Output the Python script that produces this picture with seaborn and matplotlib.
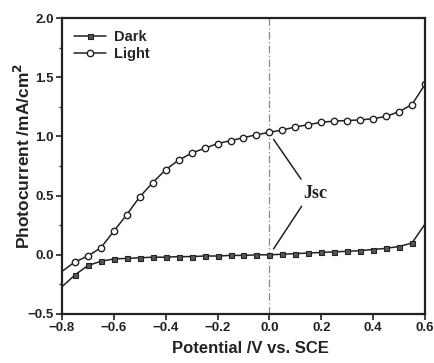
import numpy as np
import pandas as pd
import matplotlib
matplotlib.use("Agg")
import matplotlib.pyplot as plt
from matplotlib.ticker import MultipleLocator
import seaborn as sns

sns.set_style("ticks")
plt.rcParams['font.family'] = ['Liberation Sans', 'DejaVu Sans']

# potential (V vs. SCE)
potential = [-0.80, -0.75, -0.70, -0.65, -0.60, -0.55, -0.50, -0.45, -0.40, -0.35,
             -0.30, -0.25, -0.20, -0.15, -0.10, -0.05, 0.00, 0.05, 0.10, 0.15,
             0.20, 0.25, 0.30, 0.35, 0.40, 0.45, 0.50, 0.55, 0.60]
dark = [-0.27, -0.17, -0.09, -0.055, -0.035, -0.03, -0.025, -0.02, -0.02, -0.015,
        -0.015, -0.01, -0.01, -0.005, -0.005, 0.0, 0.0, 0.005, 0.01, 0.015,
        0.02, 0.025, 0.03, 0.035, 0.045, 0.055, 0.07, 0.10, 0.26]
light = [-0.14, -0.06, -0.01, 0.06, 0.20, 0.34, 0.49, 0.61, 0.72, 0.80,
         0.86, 0.90, 0.94, 0.965, 0.99, 1.015, 1.035, 1.055, 1.08, 1.10,
         1.12, 1.13, 1.135, 1.14, 1.15, 1.17, 1.21, 1.27, 1.44]
jsc_x = 0.0
jsc_dark = 0.0
jsc_light = 1.035

df = pd.DataFrame({"V": potential, "Dark": dark, "Light": light})

fig, ax = plt.subplots(figsize=(4.35, 3.63), dpi=100)
fig.subplots_adjust(left=0.1425, right=0.977, top=0.95, bottom=0.135)

ax.axvline(jsc_x, color="#888888", lw=0.9, ls=(0, (6, 2, 1, 2)), zorder=1)

sns.lineplot(data=df, x="V", y="Dark", ax=ax, color="#222222", lw=1.1,
             marker="s", markersize=3.6, markerfacecolor="#555555",
             markeredgecolor="#222222", markeredgewidth=0.8,
             markevery=list(range(1, 28)), label="Dark")
sns.lineplot(data=df, x="V", y="Light", ax=ax, color="#222222", lw=1.1,
             marker="o", markersize=4.6, markerfacecolor="white",
             markeredgecolor="#222222", markeredgewidth=1.0,
             markevery=list(range(1, 29)), label="Light")

# Jsc annotation
txt_x, txt_y = 0.178, 0.52
ax.text(txt_x, txt_y, "Jsc", family=["Liberation Serif", "DejaVu Serif"],
        fontsize=13, fontweight="bold", ha="center", va="center", color="#222222")
ax.annotate("", xy=(jsc_x + 0.01, jsc_light - 0.04), xytext=(0.128, 0.62),
            arrowprops=dict(arrowstyle="-", color="#222222", lw=1.1))
ax.annotate("", xy=(jsc_x + 0.01, jsc_dark + 0.03), xytext=(0.13, 0.43),
            arrowprops=dict(arrowstyle="-", color="#222222", lw=1.1))

ax.set_xlim(-0.8, 0.6)
ax.set_ylim(-0.5, 2.0)
ax.yaxis.set_minor_locator(MultipleLocator(0.25))
ax.set_xticks(np.round(np.arange(-0.8, 0.61, 0.2), 1))
ax.set_xticklabels(["\u22120.8", "\u22120.6", "\u22120.4", "\u22120.2", "0.0", "0.2", "0.4", "0.6"])
ax.set_yticks([-0.5, 0.0, 0.5, 1.0, 1.5, 2.0])
ax.set_yticklabels(["\u22120.5", "0.0", "0.5", "1.0", "1.5", "2.0"])

ax.tick_params(axis="both", which="major", direction="out", length=4, width=1.2,
               labelsize=9.5, colors="#222222", pad=2)
ax.tick_params(axis="y", which="minor", direction="out", length=2.5, width=1.0)
for lab in ax.get_xticklabels() + ax.get_yticklabels():
    lab.set_fontweight("bold")

for sp in ax.spines.values():
    sp.set_linewidth(1.6)
    sp.set_color("#222222")

ax.set_xlabel("Potential /V vs. SCE", fontsize=12, fontweight="bold", color="#222222")
ax.set_ylabel("Photocurrent /mA/cm$^{\\mathbf{2}}$", fontsize=12.5, fontweight="bold",
              color="#222222")
ax.xaxis.set_label_coords(0.52, -0.092)
ax.yaxis.set_label_coords(-0.08, 0.535)

leg = ax.legend(loc="upper left", frameon=False, fontsize=10.5, handlelength=2.2,
                handletextpad=0.6, labelspacing=0.25, borderaxespad=0.4)
for t in leg.get_texts():
    t.set_fontweight("bold")

fig.savefig("out.png", dpi=100)
